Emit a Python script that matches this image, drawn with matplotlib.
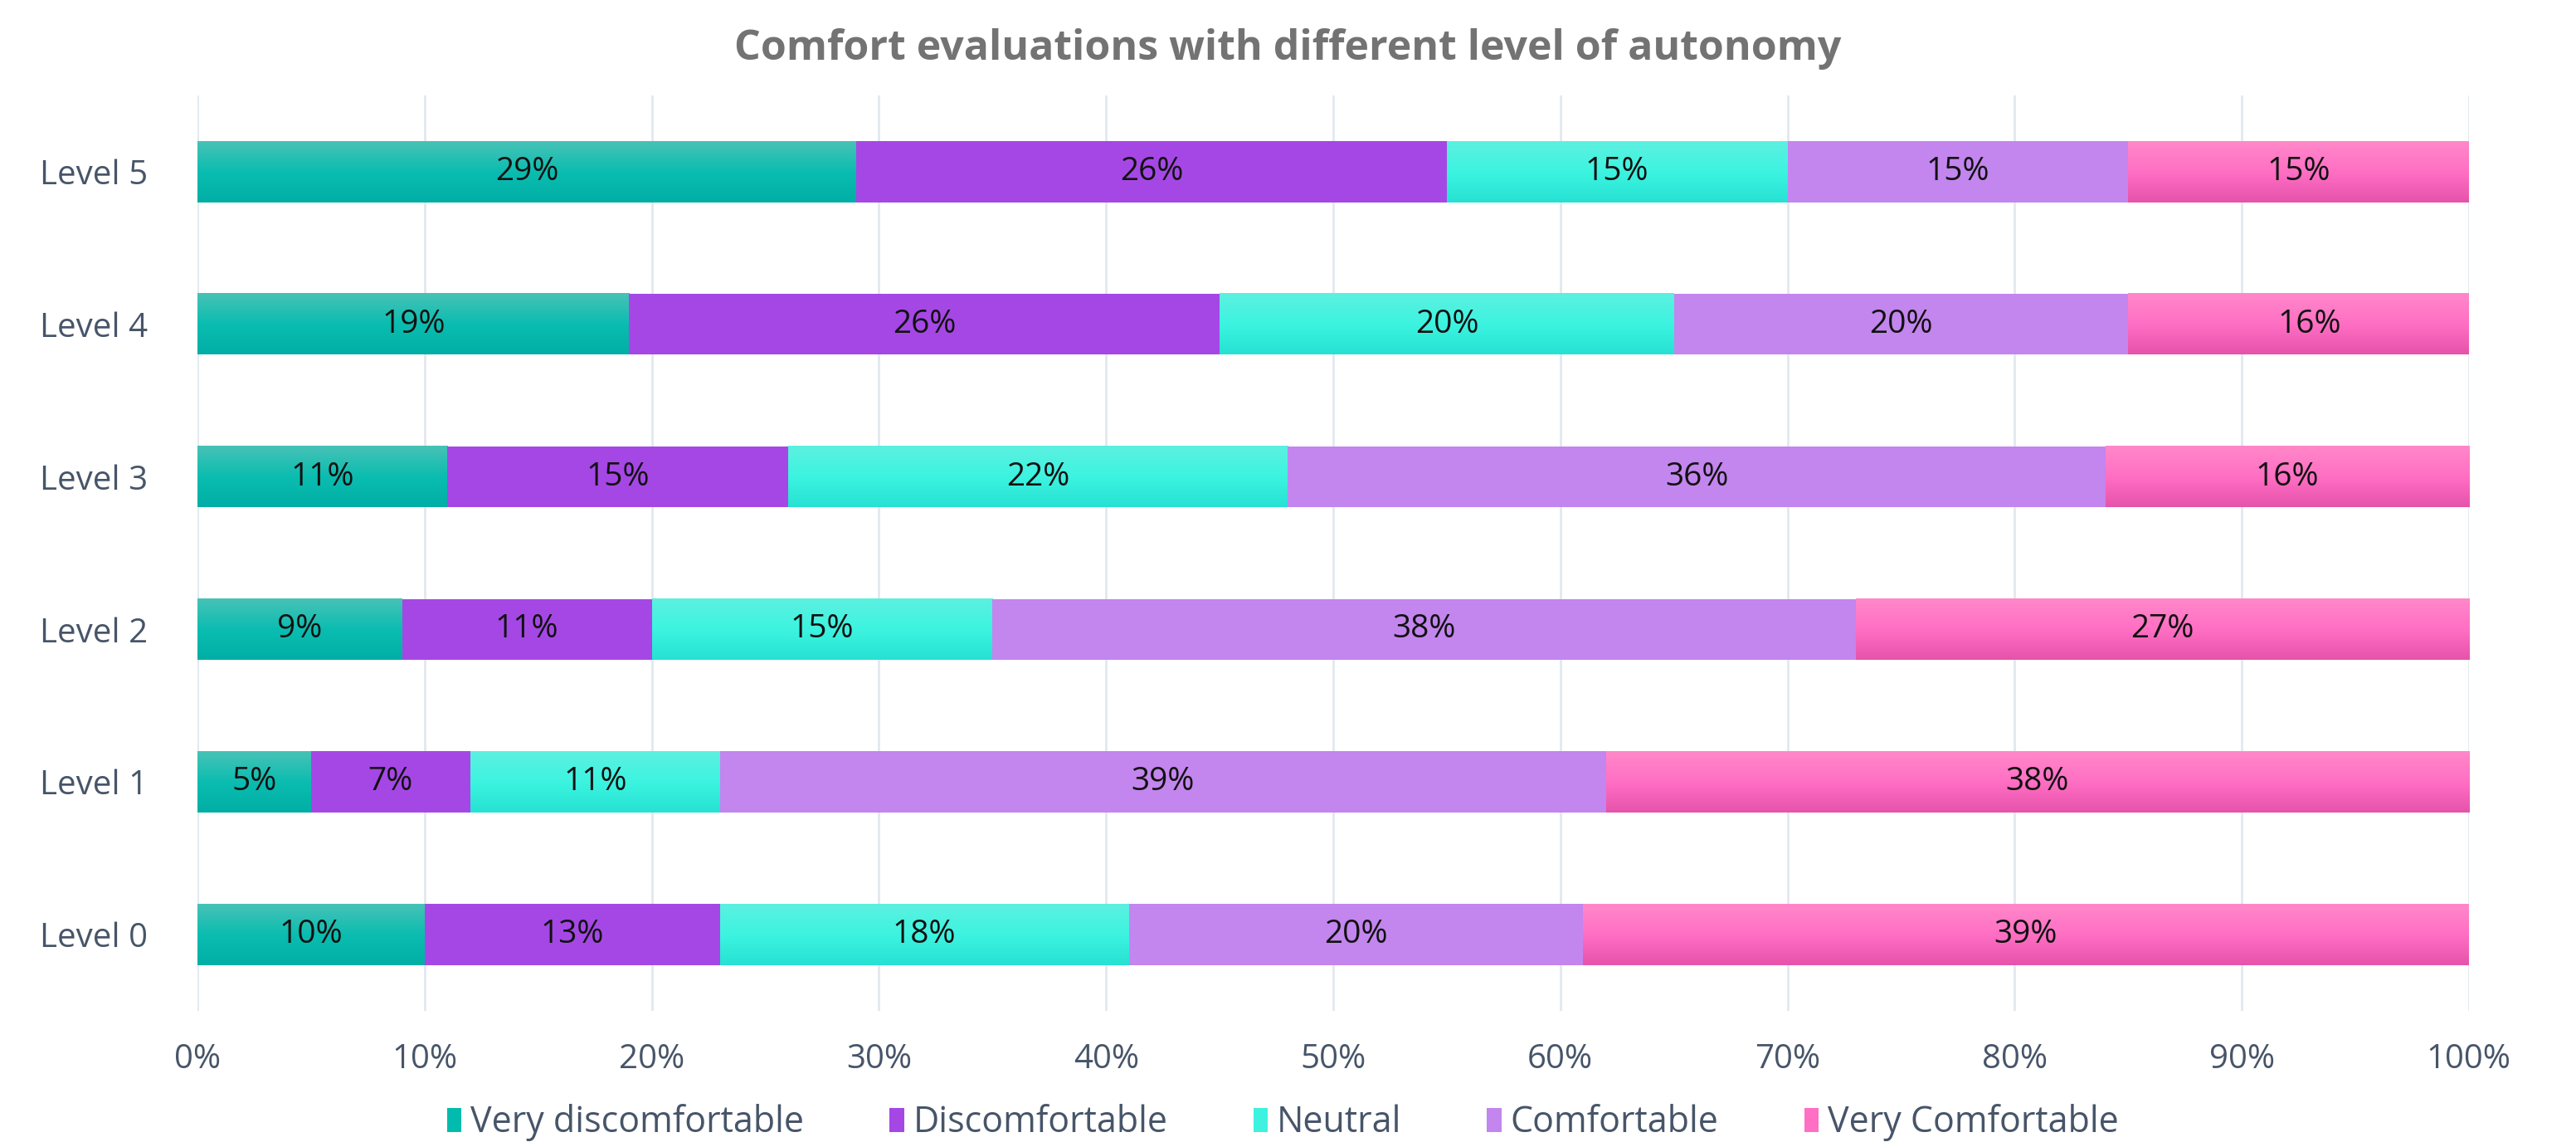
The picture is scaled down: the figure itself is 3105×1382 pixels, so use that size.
import matplotlib
matplotlib.use("Agg")
import matplotlib.pyplot as plt
import numpy as np
from matplotlib.colors import LinearSegmentedColormap
from matplotlib.patches import Patch

levels = ["Level 0", "Level 1", "Level 2", "Level 3", "Level 4", "Level 5"]
series_names = ["Very discomfortable", "Discomfortable", "Neutral", "Comfortable", "Very Comfortable"]
very_discomfortable = [10, 5, 9, 11, 19, 29]
discomfortable = [13, 7, 11, 15, 26, 26]
neutral = [18, 11, 15, 22, 20, 15]
comfortable = [20, 39, 38, 36, 20, 15]
very_comfortable = [39, 38, 27, 16, 16, 15]
xticks = [0, 10, 20, 30, 40, 50, 60, 70, 80, 90, 100]

series = [very_discomfortable, discomfortable, neutral, comfortable, very_comfortable]
# gradient stops (top, middle, bottom) or None for flat colour
gradients = [
    ["#48C2B7", "#0BBDB0", "#00AEA5"],
    None,
    ["#5DF0E1", "#3CF4E0", "#26E1D3"],
    None,
    ["#FF88C9", "#FF6FC4", "#E553AA"],
]
flat = ["#00BBAE", "#A547E5", "#3DF2DF", "#C385EE", "#FF6FC4"]

FONT = "Open Sans"
TXT = "#475569"

fig = plt.figure(figsize=(31.05, 13.82), dpi=100)
ax = fig.add_axes([0.0767, 0.1187, 0.9584 - 0.0767, 0.9168 - 0.1187])

y = np.arange(len(levels))
left = np.zeros(len(levels))
for i, (name, vals) in enumerate(zip(series_names, series)):
    vals = np.array(vals, dtype=float)
    bars = ax.barh(y, vals, left=left, height=0.4, color=flat[i], zorder=3, label=name)
    if gradients[i] is not None:
        cmap = LinearSegmentedColormap.from_list("g%d" % i, gradients[i])
        grad = np.linspace(1, 0, 256).reshape(-1, 1)
        for b in bars:
            b.set_facecolor("none")
            bx, by, bw, bh = b.get_x(), b.get_y(), b.get_width(), b.get_height()
            im = ax.imshow(grad, cmap=cmap, aspect="auto",
                           extent=[bx, bx + bw, by, by + bh], origin="lower",
                           zorder=3, interpolation="bicubic")
    for b, v in zip(bars, vals):
        ax.text(b.get_x() + b.get_width() / 2, b.get_y() + b.get_height() / 2,
                f"{v:.0f}%", ha="center", va="center", fontsize=28,
                family=FONT, color="#111111", zorder=5)
    left += vals

ax.set_xlim(0, 100)
ax.set_ylim(-0.5, 5.5)
ax.set_xticks(xticks)
ax.set_xticklabels([f"{t}%" for t in xticks])
ax.set_yticks(y)
ax.set_yticklabels(levels)
for s in ax.spines.values():
    s.set_visible(False)
ax.grid(axis="x", color="#E2E8F0", linewidth=2, zorder=0)
ax.tick_params(axis="both", length=0, labelsize=29, colors=TXT)
ax.tick_params(axis="x", pad=28)
ax.tick_params(axis="y", pad=90)
for lab in ax.get_yticklabels():
    lab.set_ha("center")
    lab.set_family(FONT)
for lab in ax.get_xticklabels():
    lab.set_family(FONT)

fig.text(0.5, 0.957, "Comfort evaluations with different level of autonomy",
         ha="center", va="center", fontsize=36, fontweight="bold",
         color="#737373", family=FONT)

handles = [Patch(facecolor=flat[i], label=series_names[i]) for i in range(5)]
fig.legend(handles=handles, loc="center", bbox_to_anchor=(0.498, 0.021), ncol=5,
           frameon=False, prop={"family": FONT, "size": 31}, labelcolor=TXT,
           handlelength=0.4, handleheight=0.65, handletextpad=0.25, columnspacing=2.4)

fig.savefig("out.png", dpi=100)
